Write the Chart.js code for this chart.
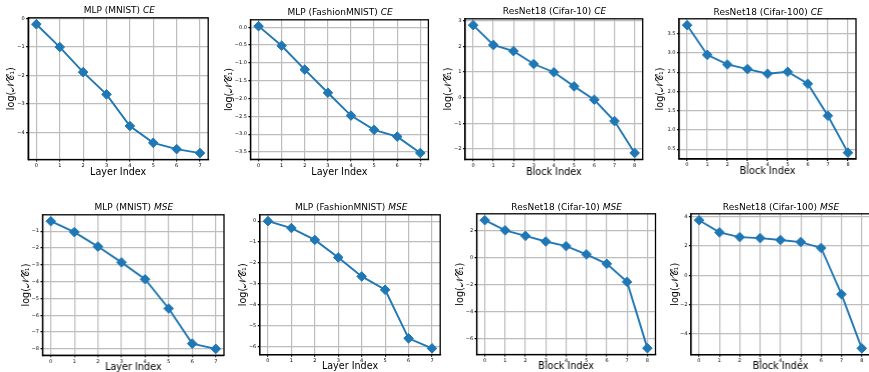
<!DOCTYPE html>
<html>
<head>
<meta charset="utf-8">
<script src="https://cdn.jsdelivr.net/npm/chart.js@4.4.0/dist/chart.umd.min.js"></script>
<style>
  html, body { margin: 0; padding: 0; background: #fff; overflow: hidden; }
  body { width: 869px; height: 372px; position: relative; font-family: "DejaVu Sans", sans-serif; }
  .cell { position: absolute; }
  .ttl { position: absolute; font-size: 9px; line-height: 11px; white-space: nowrap; text-align: center; color: #000; }
</style>
</head>
<body>
<script>
// x categories
const layerIndex = [0, 1, 2, 3, 4, 5, 6, 7];
const blockIndex = [0, 1, 2, 3, 4, 5, 6, 7, 8];

// log(NC1) per layer / block
const mlpMnistCE   = [-0.20, -1.00, -1.88, -2.66, -3.77, -4.36, -4.58, -4.72];
const mlpFashionCE = [0.03, -0.52, -1.19, -1.84, -2.48, -2.88, -3.07, -3.53];
const resC10CE     = [2.82, 2.05, 1.81, 1.31, 0.99, 0.44, -0.08, -0.91, -2.15];
const resC100CE    = [3.72, 2.95, 2.70, 2.58, 2.46, 2.51, 2.20, 1.37, 0.41];

const mlpMnistMSE   = [-0.41, -1.06, -1.92, -2.86, -3.86, -5.60, -7.69, -8.00];
const mlpFashionMSE = [0.00, -0.33, -0.90, -1.74, -2.65, -3.29, -5.62, -6.10];
const resC10MSE     = [2.77, 2.02, 1.61, 1.19, 0.85, 0.24, -0.46, -1.80, -6.71];
const resC100MSE    = [3.76, 2.93, 2.61, 2.54, 2.41, 2.27, 1.87, -1.28, -4.97];

const yLabel = 'log(\u{1D4A9}\u{1D49E}\u2081)';
const BLUE = '#1f77b4';

// plot boxes (l, t, r, b) and y-label centre x, in page pixels
const panels = [
  { name: 'MLP (MNIST) ', loss: 'CE', xl: 'Layer Index', x: layerIndex, y: mlpMnistCE, step: 1,
    box: [28.4, 15.5, 210.3, 159], lab: 12 },
  { name: 'MLP (FashionMNIST) ', loss: 'CE', xl: 'Layer Index', x: layerIndex, y: mlpFashionCE, step: 0.5,
    box: [250.2, 17.5, 429.9, 158.8], lab: 229.5 },
  { name: 'ResNet18 (Cifar-10) ', loss: 'CE', xl: 'Block Index', x: blockIndex, y: resC10CE, step: 1,
    box: [465.2, 16.5, 643.8, 158.8], lab: 449 },
  { name: 'ResNet18 (Cifar-100) ', loss: 'CE', xl: 'Block Index', x: blockIndex, y: resC100CE, step: 0.5,
    box: [679.2, 17, 857, 159], lab: 661 },
  { name: 'MLP (MNIST) ', loss: 'MSE', xl: 'Layer Index', x: layerIndex, y: mlpMnistMSE, step: 1,
    box: [42.7, 212.5, 225, 354.7], lab: 27 },
  { name: 'MLP (FashionMNIST) ', loss: 'MSE', xl: 'Layer Index', x: layerIndex, y: mlpFashionMSE, step: 1,
    box: [260, 212.7, 442.3, 354.5], lab: 244 },
  { name: 'ResNet18 (Cifar-10) ', loss: 'MSE', xl: 'Block Index', x: blockIndex, y: resC10MSE, step: 2,
    box: [476.8, 212.2, 656.5, 354.8], lab: 461 },
  { name: 'ResNet18 (Cifar-100) ', loss: 'MSE', xl: 'Block Index', x: blockIndex, y: resC100MSE, step: 2,
    box: [691.1, 212.2, 870.9, 355], lab: 676 }
];

const PT = 4, PR = 4, LH = 9.6 * 1.2;

// full box frame, like matplotlib spines
const frame = {
  id: 'frame',
  afterDraw(chart) {
    const a = chart.chartArea, ctx = chart.ctx;
    ctx.save();
    ctx.strokeStyle = '#000';
    ctx.lineWidth = 1.3;
    ctx.strokeRect(a.left, a.top, a.right - a.left, a.bottom - a.top);
    ctx.restore();
  }
};

function fmt(step) {
  const dec = step < 1 ? 1 : 0;
  return v => v.toFixed(dec).replace('-', '\u2212');
}

panels.forEach((p, i) => {
  const [l, t, r, b] = p.box;
  const top = i < 4;
  const xTitleY = top ? 171.5 : 366.5;
  const cLeft = p.lab - LH / 2;
  const yw = l - cLeft;
  const cBottom = xTitleY + LH / 2;
  const xh = cBottom - b;

  const div = document.createElement('div');
  div.className = 'cell';
  div.style.left = cLeft + 'px';
  div.style.top = (t - PT) + 'px';
  div.style.width = (r - l + yw + PR) + 'px';
  div.style.height = (b - t + PT + xh) + 'px';
  const cv = document.createElement('canvas');
  div.appendChild(cv);
  document.body.appendChild(div);

  const ttl = document.createElement('div');
  ttl.className = 'ttl';
  ttl.style.left = l + 'px';
  ttl.style.width = (r - l) + 'px';
  ttl.style.top = (t - 10.5) + 'px';
  ttl.innerHTML = p.name + '<i>' + p.loss + '</i>';
  document.body.appendChild(ttl);

  const n = p.x.length - 1;
  const ymin = Math.min(...p.y), ymax = Math.max(...p.y);
  const m = (ymax - ymin) * 0.05;

  new Chart(cv, {
    type: 'line',
    data: {
      datasets: [{
        data: p.x.map((xv, k) => ({ x: xv, y: p.y[k] })),
        borderColor: BLUE,
        backgroundColor: BLUE,
        borderWidth: 1.9,
        pointStyle: 'rectRot',
        pointRadius: 4.8,
        pointBorderWidth: 1,
        pointBorderColor: BLUE,
        pointBackgroundColor: BLUE,
        tension: 0,
        clip: false
      }]
    },
    options: {
      responsive: true,
      maintainAspectRatio: false,
      animation: false,
      events: [],
      layout: { padding: { top: PT, right: PR, left: 0, bottom: 0 } },
      plugins: { legend: { display: false }, tooltip: { enabled: false } },
      scales: {
        x: {
          type: 'linear',
          min: -0.05 * n, max: n * 1.05,
          afterFit: s => { s.height = xh; },
          grid: { color: '#bdbdbd', lineWidth: 1.2, drawTicks: true, tickLength: 2, tickColor: '#000' },
          border: { display: true, color: '#000', width: 1.3 },
          ticks: { stepSize: 1, includeBounds: false, padding: 1, color: '#000', maxRotation: 0,
                   font: { family: 'DejaVu Sans', size: 5 }, callback: v => String(v) },
          title: { display: true, text: p.xl, color: '#000', padding: 0,
                   font: { family: 'DejaVu Sans', size: 9.6 } }
        },
        y: {
          min: ymin - m, max: ymax + m,
          afterFit: s => { s.width = yw; },
          grid: { color: '#bdbdbd', lineWidth: 1.2, drawTicks: true, tickLength: 2, tickColor: '#000' },
          border: { display: true, color: '#000', width: 1.3 },
          ticks: { stepSize: p.step, includeBounds: false, padding: 1.5, color: '#000',
                   font: { family: 'DejaVu Sans', size: 5 }, callback: fmt(p.step) },
          title: { display: true, text: yLabel, color: '#000', padding: 0,
                   font: { family: 'DejaVu Sans', size: 9.6 } }
        }
      }
    },
    plugins: [frame]
  });
});
</script>
</body>
</html>
